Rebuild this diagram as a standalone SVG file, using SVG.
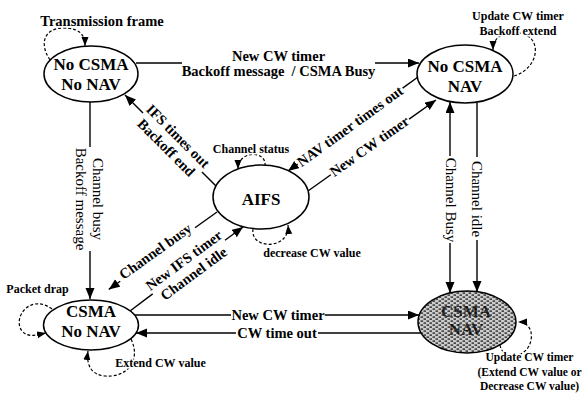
<svg xmlns="http://www.w3.org/2000/svg" width="584" height="394" viewBox="0 0 584 394">
<defs>
<style>
text{font-family:"Liberation Serif","Times New Roman",serif;fill:#000}
.n{font-size:17px;font-weight:bold;text-anchor:middle}
.l{font-size:14.5px;font-weight:bold;text-anchor:middle}
.v{font-size:15px;text-anchor:middle}
.s{font-size:12px;font-weight:bold;text-anchor:middle;stroke:#fff;stroke-width:3;paint-order:stroke;stroke-linejoin:round}
.r{font-size:11.5px;font-weight:bold;text-anchor:middle;stroke:#fff;stroke-width:3;paint-order:stroke;stroke-linejoin:round}
.t{font-size:14.5px;font-weight:bold;text-anchor:middle;stroke:#fff;stroke-width:3;paint-order:stroke;stroke-linejoin:round}
.e{fill:#fff;stroke:#000;stroke-width:1.5}
.c{fill:none;stroke:#000;stroke-width:1.4}
.d{fill:none;stroke:#000;stroke-width:1.2;stroke-dasharray:3 2}
</style>
<marker id="a" markerUnits="userSpaceOnUse" markerWidth="12" markerHeight="10" refX="11" refY="4.5" orient="auto-start-reverse"><path d="M0,0 L11,4.5 L0,9 z" fill="#000"/></marker>
<marker id="b" markerUnits="userSpaceOnUse" markerWidth="10" markerHeight="8" refX="9" refY="3.5" orient="auto"><path d="M0,0 L9,3.5 L0,7 z" fill="#000"/></marker>
<pattern id="p" patternUnits="userSpaceOnUse" width="6" height="4">
<rect width="6" height="4" fill="#cdcdcd"/>
<rect x="0.5" y="0.4" width="2.6" height="1.4" fill="#2a2a2a"/>
<rect x="3.5" y="2.4" width="2.6" height="1.4" fill="#2a2a2a"/>
</pattern>
</defs>
<rect width="584" height="394" fill="#fff"/>

<g id="connectors">
<!-- A -> B -->
<path class="c" d="M136 63 H182"/>
<path class="c" d="M375 63 H419" marker-end="url(#a)"/>
<text class="l" x="278.5" y="61">New CW timer</text>
<text class="l" x="278.5" y="75.5">Backoff message&#160; / CSMA Busy</text>
<!-- A -> D -->
<path class="c" d="M90 102 V147"/>
<path class="c" d="M90 251 V299" marker-end="url(#a)"/>
<g transform="translate(93,199) rotate(90)"><text class="v" x="0" y="0">Channel busy</text><text class="v" x="0" y="17">Backoff message</text></g>
<!-- C -> A -->
<path class="c" d="M216 186 L202 172"/>
<path class="c" d="M143 113 L125 95" marker-end="url(#a)"/>
<g transform="translate(172,142) rotate(45)"><text class="l" x="0" y="-3.5">IFS times out</text><text class="l" x="0" y="13">Backoff end</text></g>
<!-- C -> D -->
<path class="c" d="M217 212 L195 227.7"/>
<path class="c" d="M120.2 281.2 L108.8 289.4" marker-end="url(#a)"/>
<g transform="translate(157.6,254.5) rotate(-35.6)"><text class="l" x="0" y="1">Channel busy</text></g>
<!-- D -> C -->
<path class="c" d="M130 311 L152.7 293.9"/>
<path class="c" d="M225 240.3 L243 227" marker-end="url(#a)"/>
<g transform="translate(188.8,267.1) rotate(-36.5)"><text class="l" x="0" y="-3.5">New IFS timer</text><text class="l" x="0" y="13">Channel idle</text></g>
<!-- B -> C -->
<path class="c" d="M418 77 L402.6 88.1"/>
<path class="c" d="M297.7 164 L288 171" marker-end="url(#a)"/>
<g transform="translate(349.9,126.2) rotate(-35.9)"><text class="l" x="0" y="5">NAV timer times out</text></g>
<!-- C -> B -->
<path class="c" d="M308 191 L330.8 174.8"/>
<path class="c" d="M409.1 119.1 L436 100" marker-end="url(#a)"/>
<g transform="translate(369.9,147) rotate(-35.4)"><text class="l" x="0" y="4">New CW timer</text></g>
<!-- B <-> E -->
<path class="c" d="M450 102 V156" marker-start="url(#a)"/>
<path class="c" d="M450 243 V293" marker-end="url(#a)"/>
<g transform="translate(446,200) rotate(90)"><text class="v" x="0" y="0">Channel Busy</text></g>
<!-- B -> E -->
<path class="c" d="M477 103 V157"/>
<path class="c" d="M477 240 V292" marker-end="url(#a)"/>
<g transform="translate(471.5,199) rotate(90)"><text class="v" x="0" y="0">Channel idle</text></g>
<!-- D -> E -->
<path class="c" d="M135 315 H231"/>
<path class="c" d="M325 315 H419" marker-end="url(#a)"/>
<text class="l" x="278" y="320">New CW timer</text>
<!-- E -> D -->
<path class="c" d="M421 333 H318"/>
<path class="c" d="M236 333 H136" marker-end="url(#a)"/>
<text class="l" x="277" y="338">CW time out</text>
<!-- self loops -->
<path class="d" d="M50 60 C38 42, 46 28, 63 28 C79 28, 85 34, 85 46" marker-end="url(#b)"/>
<text class="t" x="102" y="26">Transmission frame</text>
<path class="d" d="M514 76 C540 68, 543 36, 519 33 C502 31, 493 38, 493 50" marker-end="url(#b)"/>
<text class="s" x="518" y="20">Update CW timer</text>
<text class="s" x="518" y="35">Backoff extend</text>
<path class="d" d="M265 166 C267 150, 238 150, 238 169" marker-end="url(#b)"/>
<text class="s" x="251" y="153">Channel status</text>
<path class="d" d="M253 229 C250 250, 290 250, 288 225" marker-end="url(#b)"/>
<text class="s" x="312" y="257">decrease CW value</text>
<path class="d" d="M52 309 C30 293, 12 318, 22 331 C28 338, 37 335, 46 333" marker-end="url(#b)"/>
<text class="s" x="37.5" y="293">Packet drap</text>
<path class="d" d="M131 339 C142 362, 125 378, 105 376 C92 375, 86 366, 88 351" marker-end="url(#b)"/>
<text class="s" x="160.5" y="367">Extend CW value</text>
<path class="d" d="M500 345 C503 362, 528 358, 531 340 C533 329, 527 322, 518 322" marker-end="url(#b)"/>
<text class="r" x="529.5" y="361">Update CW timer</text>
<text class="r" x="529.5" y="376">(Extend CW value or</text>
<text class="r" x="529.5" y="390">Decrease CW value)</text>
</g>

<g id="nA">
<ellipse class="e" cx="91" cy="74" rx="47" ry="28"/>
<text class="n" x="91" y="70">No CSMA</text>
<text class="n" x="91" y="90">No NAV</text>
</g>
<g id="nB">
<ellipse class="e" cx="465" cy="74" rx="48" ry="29"/>
<text class="n" x="465" y="72">No CSMA</text>
<text class="n" x="465" y="92">NAV</text>
</g>
<g id="nC">
<ellipse class="e" cx="261" cy="197" rx="48" ry="32"/>
<text class="n" x="261" y="205">AIFS</text>
</g>
<g id="nD">
<ellipse class="e" cx="91" cy="325" rx="47.5" ry="25"/>
<text class="n" x="91" y="317">CSMA</text>
<text class="n" x="91" y="337">No NAV</text>
</g>
<g id="nE">
<ellipse cx="467" cy="322" rx="49" ry="31" fill="url(#p)" stroke="#000" stroke-width="1.5"/>
<text class="n" x="466" y="317" fill-opacity="0.8">CSMA</text>
<text class="n" x="466" y="335" fill-opacity="0.8">NAV</text>
</g>
</svg>
